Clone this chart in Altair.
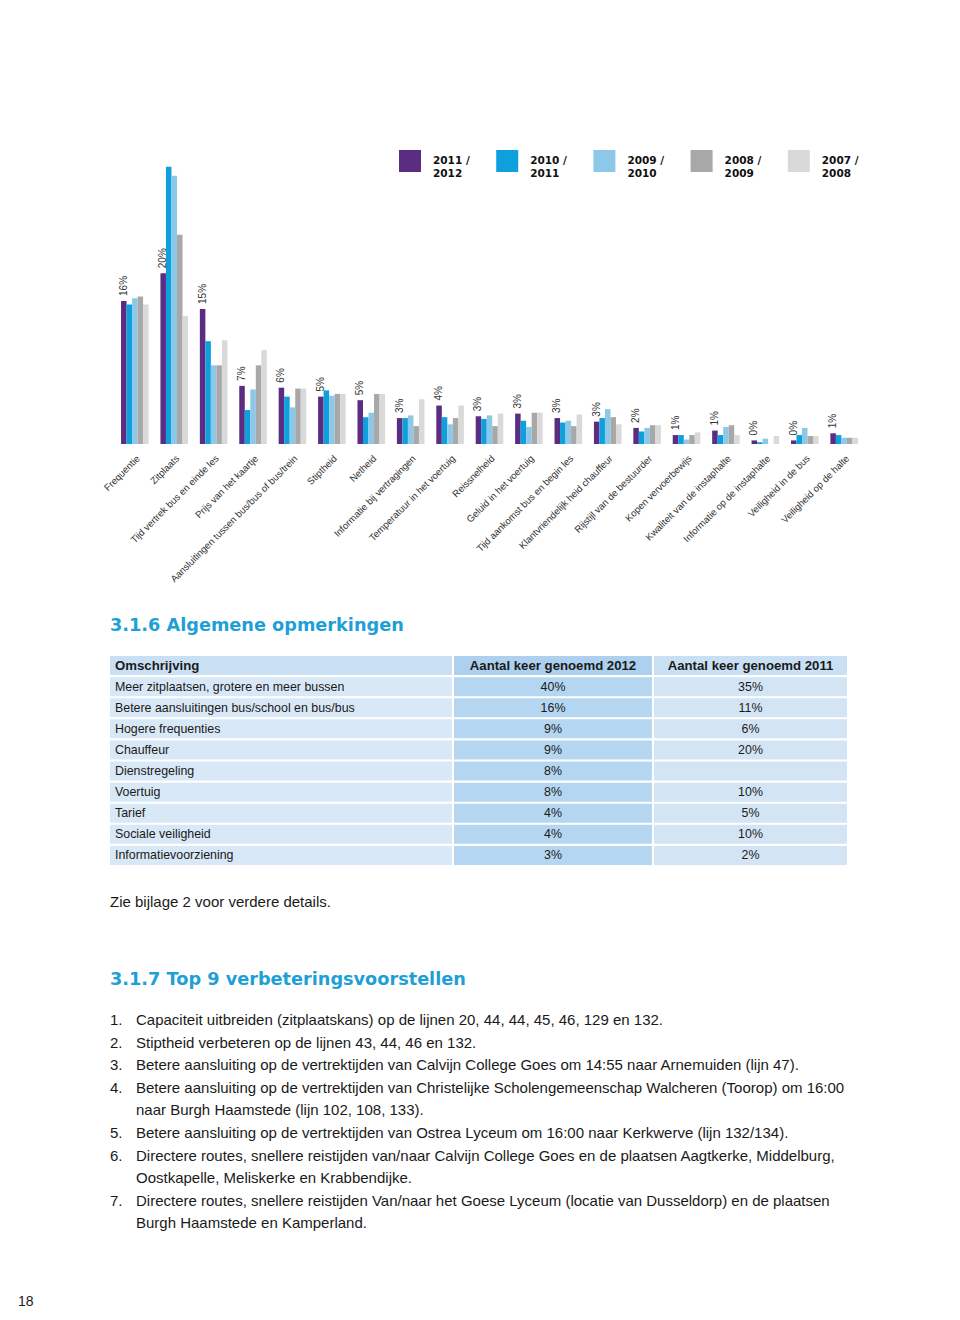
import altair as alt
import pandas as pd

# ---------------- bar chart data ----------------
categories = [
    "Frequentie", "Zitplaats", "Tijd vertrek bus en einde les", "Prijs van het kaartje",
    "Aansluitingen tussen bus/bus of bus/trein", "Stiptheid", "Netheid",
    "Informatie bij vertragingen", "Temperatuur in het voertuig", "Reissnelheid",
    "Geluid in het voertuig", "Tijd aankomst bus en begin les",
    "Klantvriendelijk heid chauffeur", "Rijstijl van de bestuurder", "Kopen vervoerbewijs",
    "Kwaliteit van de instaphalte", "Informatie op de instaphalte",
    "Veiligheid in de bus", "Veiligheid op de halte",
]
series = ["2011 / 2012", "2010 / 2011", "2009 / 2010", "2008 / 2009", "2007 / 2008"]
series_colors = ["#5a2d82", "#0ea0dc", "#8dc8e8", "#a8a8a8", "#d9d9d9"]

v_2011_2012 = [16.0, 19.1, 15.1, 6.5, 6.3, 5.3, 4.9, 2.9, 4.3, 3.1, 3.4, 2.9, 2.5, 1.8, 1.0, 1.5, 0.4, 0.4, 1.2]
v_2010_2011 = [15.6, 31.0, 11.5, 3.8, 5.3, 6.0, 3.0, 2.9, 3.0, 2.8, 2.6, 2.4, 2.9, 1.4, 1.0, 1.0, 0.2, 1.0, 1.0]
v_2009_2010 = [16.3, 30.0, 8.8, 6.1, 4.1, 5.4, 3.5, 3.2, 2.2, 3.2, 1.9, 2.6, 3.9, 1.8, 0.5, 1.9, 0.6, 1.8, 0.7]
v_2008_2009 = [16.5, 23.4, 8.8, 8.8, 6.2, 5.6, 5.6, 2.0, 2.9, 2.0, 3.5, 2.0, 3.0, 2.1, 1.0, 2.1, 0.0, 0.9, 0.7]
v_2007_2008 = [15.6, 14.3, 11.6, 10.5, 6.2, 5.6, 5.6, 5.0, 4.3, 3.4, 3.5, 3.3, 2.2, 2.1, 1.3, 1.0, 0.9, 0.9, 0.7]
labels_2011_2012 = ["16%", "20%", "15%", "7%", "6%", "5%", "5%", "3%", "4%", "3%",
                    "3%", "3%", "3%", "2%", "1%", "1%", "0%", "0%", "1%"]

# ---------------- table data ----------------
table_desc = ["Omschrijving", "Meer zitplaatsen, grotere en meer bussen",
              "Betere aansluitingen bus/school en bus/bus", "Hogere frequenties", "Chauffeur",
              "Dienstregeling", "Voertuig", "Tarief", "Sociale veiligheid", "Informatievoorziening"]
table_2012 = ["Aantal keer genoemd 2012", "40%", "16%", "9%", "9%", "8%", "8%", "4%", "4%", "3%"]
table_2011 = ["Aantal keer genoemd 2011", "35%", "11%", "6%", "20%", "", "10%", "5%", "10%", "2%"]

# ---------------- text data ----------------
heading_316 = "3.1.6 Algemene opmerkingen"
note_text = "Zie bijlage 2 voor verdere details."
heading_317 = "3.1.7 Top 9 verbeteringsvoorstellen"
list_nums = ["1.", "2.", "3.", "4.", "", "5.", "6.", "", "7.", ""]
list_lines = [
    "Capaciteit uitbreiden (zitplaatskans) op de lijnen 20, 44, 44, 45, 46, 129 en 132.",
    "Stiptheid verbeteren op de lijnen 43, 44, 46 en 132.",
    "Betere aansluiting op de  vertrektijden van Calvijn College Goes om 14:55 naar Arnemuiden (lijn 47).",
    "Betere aansluiting op de vertrektijden van Christelijke Scholengemeenschap Walcheren (Toorop) om 16:00",
    "naar Burgh Haamstede (lijn 102, 108, 133).",
    "Betere aansluiting op de vertrektijden van Ostrea Lyceum om 16:00 naar Kerkwerve (lijn 132/134).",
    "Directere routes, snellere reistijden van/naar Calvijn College Goes en de plaatsen Aagtkerke, Middelburg,",
    "Oostkapelle, Meliskerke en Krabbendijke.",
    "Directere routes, snellere reistijden Van/naar het Goese Lyceum (locatie van Dusseldorp) en de plaatsen",
    "Burgh Haamstede en Kamperland.",
]
page_number = "18"

BLUE_HEAD = "#1e9fd6"
TEXT = "#1a1a1a"
SANS = "Liberation Sans, Arial, Helvetica, sans-serif"
WIDE = "DejaVu Sans, Verdana, sans-serif"

# ---------------- bar chart ----------------
all_vals = [v_2011_2012, v_2010_2011, v_2009_2010, v_2008_2009, v_2007_2008]
rows = []
for s, vals in zip(series, all_vals):
    for c, v in zip(categories, vals):
        rows.append({"cat": c, "series": s, "value": v})
df = pd.DataFrame(rows)
df_lab = pd.DataFrame({"cat": categories, "series": series[0], "value": v_2011_2012,
                       "label": labels_2011_2012})

x_enc = alt.X("cat:N", sort=categories,
              scale=alt.Scale(paddingInner=0.3, paddingOuter=0.28),
              axis=alt.Axis(title=None, labelAngle=-45, ticks=False, domain=False,
                            labelFont=SANS, labelFontSize=9.6, labelColor="#333333",
                            labelPadding=9, labelLimit=400))
xo_enc = alt.XOffset("series:N", sort=series,
                     scale=alt.Scale(domain=series, paddingInner=0, paddingOuter=0))
y_enc = alt.Y("value:Q", scale=alt.Scale(domain=[0, 34]), axis=None)

bars = alt.Chart(df).mark_bar().encode(
    x=x_enc, xOffset=xo_enc, y=y_enc,
    color=alt.Color("series:N", sort=series,
                    scale=alt.Scale(domain=series, range=series_colors),
                    legend=alt.Legend(title=None, orient="none", legendX=289, legendY=10,
                                      direction="horizontal", symbolType="square",
                                      symbolSize=484, symbolStrokeWidth=0, symbolOpacity=1,
                                      labelFont=WIDE, labelFontWeight="bold",
                                      labelFontSize=10.5, labelColor="#111111",
                                      labelOffset=12, columnPadding=26.2, labelLimit=120,
                                      labelExpr="[substring(datum.label,0,6), substring(datum.label,7)]")),
)
pct = alt.Chart(df_lab).mark_text(angle=270, align="left", baseline="middle", dx=5,
                                  font=SANS, fontSize=10, color="#333333").encode(
    x=x_enc, xOffset=xo_enc, y=y_enc, text="label:N")

bar_chart = alt.layer(bars, pct).properties(width=759, height=304)

# ---------------- table ----------------
def table_col(values, width, head_color, body_color, left):
    d = pd.DataFrame({"row": list(range(len(values))), "text": values,
                      "kind": ["header"] + ["body"] * (len(values) - 1)})
    base = alt.Chart(d).encode(
        y=alt.Y("row:O", axis=None, scale=alt.Scale(paddingInner=0.1, paddingOuter=0.05)))
    rect = base.mark_rect().encode(
        color=alt.condition("datum.kind == 'header'", alt.value(head_color), alt.value(body_color)))
    if left:
        xpos = alt.value(0)
        kw = dict(align="left", dx=5)
    else:
        xpos = alt.value(width / 2)
        kw = dict(align="center")
    head = base.transform_filter("datum.kind == 'header'").mark_text(
        baseline="middle", font=SANS, fontSize=13.2, fontWeight="bold", color=TEXT, **kw
    ).encode(x=xpos, text="text:N")
    body = base.transform_filter("datum.kind == 'body'").mark_text(
        baseline="middle", font=SANS, fontSize=12.4, color=TEXT, **kw
    ).encode(x=xpos, text="text:N")
    return alt.layer(rect, head, body).properties(width=width, height=211)

table = alt.hconcat(
    table_col(table_desc, 342, "#c9e0f4", "#d9e8f6", True),
    table_col(table_2012, 198, "#acd0ee", "#b5d6f0", False),
    table_col(table_2011, 193, "#c9e0f4", "#d3e5f5", False),
    spacing=2, bounds="flush",
    title=alt.TitleParams(heading_316, anchor="start", frame="group", font=WIDE,
                          fontSize=17.7, fontWeight="bold", color=BLUE_HEAD, offset=20),
)

# ---------------- list ----------------
dl = pd.DataFrame({"line": list(range(len(list_lines))), "num": list_nums, "text": list_lines})
lbase = alt.Chart(dl).encode(
    y=alt.Y("line:O", axis=None, scale=alt.Scale(paddingInner=0, paddingOuter=0)))
nums = lbase.mark_text(align="left", baseline="middle", font=SANS, fontSize=15,
                       color=TEXT).encode(x=alt.value(0), text="num:N")
lines = lbase.mark_text(align="left", baseline="middle", font=SANS, fontSize=15,
                        color=TEXT).encode(x=alt.value(26), text="text:N")
list_chart = alt.layer(nums, lines).properties(
    width=740, height=225.5,
    title=alt.TitleParams(note_text, subtitle=heading_317, anchor="start", frame="group",
                          font=SANS, fontSize=15, fontWeight="normal", color=TEXT,
                          subtitleFont=WIDE, subtitleFontSize=17.7, subtitleFontWeight="bold",
                          subtitleColor=BLUE_HEAD, subtitlePadding=61, offset=20),
)

# the concatenated table counts as zero height in the flush layout, so the gap
# below it includes the table height (211) plus the visual gap (143)
rest = alt.vconcat(table, list_chart, spacing=354, bounds="flush")

chart = alt.vconcat(
    bar_chart, rest, spacing=211, bounds="flush",
    title=alt.TitleParams(page_number, orient="bottom", anchor="start", frame="group",
                          dx=-92, offset=60, font=SANS, fontSize=14, fontWeight="normal",
                          color="#222222"),
).properties(
    padding={"top": 132, "left": 10, "right": 5, "bottom": 5},
    background="white",
).configure_view(stroke=None)

chart.save("out.html", embed_options={"renderer": "svg", "actions": False})
